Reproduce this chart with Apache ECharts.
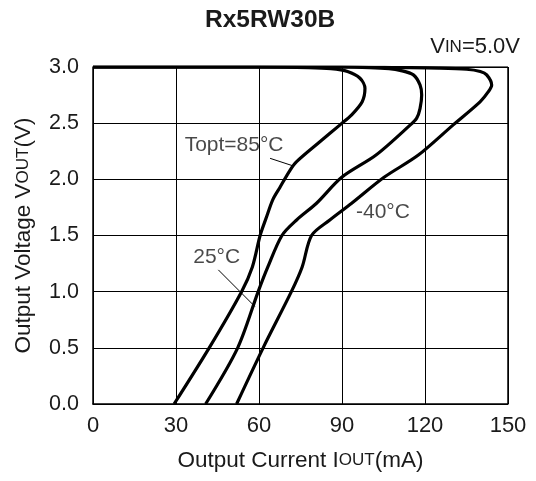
<!DOCTYPE html>
<html>
<head>
<meta charset="utf-8">
<script src="https://cdn.jsdelivr.net/npm/echarts@6/dist/echarts.min.js"></script>
<style>html,body{margin:0;padding:0;background:#fff}#c{width:536px;height:481px}</style>
</head>
<body>
<div id="c"></div>
<script>
var xTicks = [0, 30, 60, 90, 120, 150];
var yTicks = [0.0, 0.5, 1.0, 1.5, 2.0, 2.5, 3.0];

var curve85 = [[0,3.0],[60,3.0],[78,2.995],[86,2.985],[92,2.96],[96.5,2.90],[98.3,2.81],[97.3,2.69],[93.5,2.574],[89.3,2.485],[82,2.334],[73.6,2.157],[71.2,2.08],[67.6,1.93],[65,1.82],[62.5,1.65],[60.4,1.5],[57.6,1.22],[53.7,1.0],[42,0.5],[29.3,0]];
var curve25 = [[0,3.0],[90,3.0],[100,2.995],[107,2.985],[111,2.97],[115.8,2.93],[118.2,2.84],[118.8,2.75],[118.2,2.63],[117,2.545],[114.5,2.48],[102.3,2.216],[89.9,2.018],[80.8,1.787],[73.6,1.638],[68.3,1.5],[63.2,1.22],[59.7,1.0],[52.3,0.5],[40.7,0]];
var curveM40 = [[0,3.0],[95,3.0],[110,2.995],[125,2.99],[135,2.98],[140,2.96],[142.3,2.93],[144.1,2.84],[142.9,2.78],[139.9,2.69],[130.2,2.485],[117.6,2.216],[105.2,2.018],[93.5,1.787],[85.6,1.638],[79,1.5],[75.6,1.22],[71.7,1.0],[61.5,0.5],[51.9,0]];

var labels = [
  {name: 'Topt=85°C', value: [51, 2.305]},
  {name: '25°C', value: [44.7, 1.309]},
  {name: '-40°C', value: [104.8, 1.703]}
];
var leader85 = [[64, 2.187], [72.4, 2.119]];
var leader25 = [[45.3, 1.194], [58.5, 0.868]];

var txt = '#1a1a1a';
var FF = 'Liberation Sans, Arial';
var chart = echarts.init(document.getElementById('c'));
function curve(d){
  return {type:'line', data:d, smooth:0.3, symbol:'none', lineStyle:{color:'#000', width:3.2}, z:5};
}
var richName = {a:{fontSize:22.5,fontFamily:FF,color:txt},b:{fontSize:17,fontFamily:FF,color:txt}};
chart.setOption({
  animation:false,
  title:{text:'Rx5RW30B', left:200, top:3, textStyle:{fontFamily:FF, fontSize:24.5, fontWeight:'bold', color:txt}},
  graphic:[{type:'text', right:16, top:36, style:{rich:{a:{fontSize:22,fontFamily:FF,fill:txt},b:{fontSize:17,fontFamily:FF,fill:txt}}, text:'{a|V}{b|IN}{a|=5.0V}'}}],
  grid:{left:93, right:28, top:67, bottom:77},
  xAxis:{type:'value', min:0, max:150, interval:30,
    name:'{a|Output Current I}{b|OUT}{a|(mA)}', nameLocation:'middle', nameGap:45,
    nameTextStyle:{rich:richName},
    axisLine:{lineStyle:{color:'#000', width:1.5}}, axisTick:{show:false},
    axisLabel:{fontSize:22, fontFamily:FF, color:txt, margin:11},
    splitLine:{lineStyle:{color:'#000', width:1}}},
  yAxis:{type:'value', min:0, max:3, interval:0.5,
    name:'{a|Output Voltage V}{b|OUT}{a|(V)}', nameLocation:'middle', nameGap:58,
    nameTextStyle:{rich:richName},
    axisLine:{show:true, lineStyle:{color:'#000', width:1.5}}, axisTick:{show:false},
    axisLabel:{fontSize:21.5, fontFamily:FF, color:txt, margin:14, formatter:function(v){return v.toFixed(1);}},
    splitLine:{lineStyle:{color:'#000', width:1}}},
  series:[
    {type:'line', data:[[0,3],[150,3]], symbol:'none', lineStyle:{color:'#000',width:1.5}, silent:true, z:3},
    {type:'line', data:[[150,0],[150,3]], symbol:'none', lineStyle:{color:'#000',width:1.5}, silent:true, z:3},
    curve(curve85), curve(curve25), curve(curveM40),
    {type:'line', data:leader85, symbol:'none', lineStyle:{color:'#000', width:1}, z:4},
    {type:'line', data:leader25, symbol:'none', lineStyle:{color:'#000', width:1}, z:4},
    {type:'scatter', data:labels, symbolSize:0, z:6,
      label:{show:true, position:'inside', formatter:'{b}', fontSize:21, fontFamily:FF, color:txt}}
  ]
});
</script>
</body>
</html>
